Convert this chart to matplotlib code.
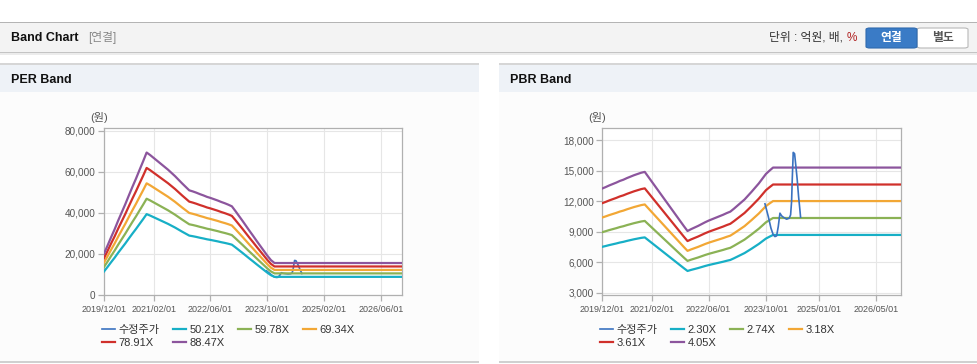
import matplotlib
matplotlib.use('Agg')
import matplotlib.pyplot as plt
from matplotlib.patches import Rectangle, FancyBboxPatch
from matplotlib.ticker import FuncFormatter

plt.rcParams['font.family'] = ['Liberation Sans', 'Noto Sans CJK KR']

W, H = 978, 364

# ---- data (x = position on the chart's time axis, in months from 2019/12) ----
eps_x = [0, 1, 2, 3, 4, 5, 6, 7, 8, 9, 10, 11, 12, 13, 14, 15, 16, 17, 18, 19, 20, 21, 22, 23, 24,
         25, 26, 27, 28, 29, 30, 31, 32, 33, 34, 35, 36, 37, 38, 39, 40, 41, 42, 43, 44, 45, 46, 47, 48, 84]
eps = [228, 272, 318, 362, 410, 455, 500, 548, 595, 640, 688, 735, 784, 770, 754, 738, 722, 706, 690,
       672, 654, 634, 614, 595, 576, 570, 563, 555, 548, 540, 534, 527, 520, 512, 505, 497, 488, 462,
       435, 408, 380, 352, 325, 297, 270, 243, 216, 192, 176, 176]
per_multiples = [50.21, 59.78, 69.34, 78.91, 88.47]
per_labels = ['50.21X', '59.78X', '69.34X', '78.91X', '88.47X']

bps_x = [0, 1, 2, 3, 4, 5, 6, 7, 8, 9, 10, 11, 12, 13, 14, 15, 16, 17, 18, 19, 20, 21, 22, 23, 24,
         25, 26, 27, 28, 29, 30, 31, 32, 33, 34, 35, 36, 37, 38, 39, 40, 41, 42, 43, 44, 45, 46, 47, 48, 84]
bps = [3275, 3310, 3350, 3385, 3420, 3460, 3490, 3530, 3565, 3600, 3630, 3660, 3680, 3560, 3440, 3320,
       3200, 3080, 2960, 2840, 2720, 2600, 2480, 2360, 2245, 2290, 2330, 2370, 2415, 2460, 2500, 2535,
       2570, 2605, 2640, 2680, 2715, 2785, 2860, 2935, 3010, 3105, 3200, 3300, 3400, 3515, 3630, 3710,
       3785, 3785]
pbr_multiples = [2.30, 2.74, 3.18, 3.61, 4.05]
pbr_labels = ['2.30X', '2.74X', '3.18X', '3.61X', '4.05X']

price_x = [45.73, 46.66, 47.41, 48.06, 48.53, 49.0, 49.46, 49.93, 50.4, 50.86, 51.8, 52.54, 52.92,
           53.2, 53.38, 53.66, 54.04, 54.41, 54.78, 55.16, 55.53, 55.72]
price = [11765, 10517, 9368, 8711, 8547, 8613, 9532, 10846, 10583, 10452, 10255, 10353, 10681,
         11995, 14129, 16821, 16690, 15442, 14129, 12487, 11174, 10452]

per_tick_pos = [0, 14.2, 29.9, 46.0, 62.0, 78.0]
per_tick_lab = ['2019/12/01', '2021/02/01', '2022/06/01', '2023/10/01', '2025/02/01', '2026/06/01']
pbr_tick_pos = [0, 14.0, 29.9, 45.9, 60.9, 77.0]
pbr_tick_lab = ['2019/12/01', '2021/02/01', '2022/06/01', '2023/10/01', '2025/01/01', '2026/05/01']

band_colors = ['#17afc6', '#8bb255', '#f2a735', '#d0302b', '#8c559d']
price_color = '#3a72c0'

fig = plt.figure(figsize=(W / 100, H / 100), dpi=100)
fig.patch.set_facecolor('white')


def rect(x0, y0, x1, y1, color):
    # rectangle given in pixel coords (origin top-left), kept behind the axes
    fig.patches.append(Rectangle((x0 / W, 1 - y1 / H), (x1 - x0) / W, (y1 - y0) / H,
                                 transform=fig.transFigure, facecolor=color,
                                 edgecolor='none', zorder=-10))


def text(x, y, s, **kw):
    fig.text(x / W, 1 - y / H, s, va='center', **kw)


# top header bar
rect(0, 22, W, 53, '#f3f3f3')
rect(0, 21.5, W, 23, '#b4b4b4')
rect(0, 52, W, 53, '#c4c4c4')
rect(0, 53, W, 55, '#ececec')
text(11, 38, 'Band Chart', fontsize=9, fontweight='bold', color='#111111')
text(88, 38, '[연결]', fontsize=8.5, color='#888888')
text(846, 38, '단위 : 억원, 배, ', fontsize=8.5, color='#333333', ha='right')
text(847, 38, '%', fontsize=8.5, color='#b02020', ha='left')
fig.patches.append(FancyBboxPatch((917 / W, 1 - 48 / H), 51 / W, 20 / H,
                                  boxstyle='round,pad=0,rounding_size=0.004',
                                  transform=fig.transFigure, facecolor='white',
                                  edgecolor='#b8b8b8', linewidth=0.8, zorder=-5))
fig.patches.append(FancyBboxPatch((866 / W, 1 - 48 / H), 51 / W, 20 / H,
                                  boxstyle='round,pad=0,rounding_size=0.004',
                                  transform=fig.transFigure, facecolor='#3a7bc6',
                                  edgecolor='#2f6aae', linewidth=0.8, zorder=-5))
text(891.5, 38, '연결', fontsize=8.5, fontweight='bold', color='white', ha='center')
text(942.5, 38, '별도', fontsize=8.5, fontweight='bold', color='#555555', ha='center')

# panels
for px0, px1, title in [(0, 479, 'PER Band'), (499, 978, 'PBR Band')]:
    rect(px0, 63, px1, 64.5, '#d6d6d6')
    rect(px0, 64.5, px1, 92, '#eef2f7')
    rect(px0, 92, px1, 361, '#fcfcfc')
    rect(px0, 361, px1, 362.5, '#d0d0d0')
    text(px0 + 11, 80, title, fontsize=9, fontweight='bold', color='#111111')


def band_axes(left_px, right_px, xs, base, mults, labels, tick_pos, tick_lab,
              ylim, yticks, price_on_top):
    ax = fig.add_axes([left_px / W, 1 - 295 / H, (right_px - left_px) / W, 167 / H])
    ax.set_facecolor('white')
    pz = 5 if price_on_top else 1
    ax.plot(price_x, price, color=price_color, lw=1.2, zorder=pz, label='수정주가')
    for m, c, lab in zip(mults, band_colors, labels):
        ax.plot(xs, [b * m for b in base], color=c, lw=1.6, zorder=3, label=lab)
    ax.set_xlim(0, 83.9)
    ax.set_ylim(*ylim)
    ax.set_xticks(tick_pos)
    ax.set_xticklabels(tick_lab)
    ax.set_yticks(yticks)
    ax.yaxis.set_major_formatter(FuncFormatter(lambda v, p: f'{int(v):,}'))
    ax.grid(True, color='#e6e6e6', lw=0.8, zorder=0)
    ax.set_axisbelow(True)
    for s in ax.spines.values():
        s.set_color('#b0b0b0')
        s.set_linewidth(0.9)
    ax.tick_params(axis='both', colors='#b0b0b0', labelcolor='#555555', labelsize=6.5,
                   length=4, width=0.9, pad=2)
    ax.tick_params(axis='y', labelsize=7.2)
    ax.tick_params(axis='x', pad=3)
    fig.text((left_px - 5) / W, 1 - 118 / H, '(원)', fontsize=8, color='#555555',
             ha='center', va='center')
    h, l = ax.get_legend_handles_labels()
    order = [0, 4, 1, 5, 2, 3]
    fig.legend([h[i] for i in order], [l[i] for i in order], ncol=4, frameon=False,
               loc='upper left', bbox_to_anchor=((left_px - 2) / W, 1 - 325 / H),
               fontsize=8, handlelength=1.2, handletextpad=0.3, columnspacing=1.2,
               labelspacing=0.3, borderpad=0, borderaxespad=0,
               labelcolor='#333333')
    return ax


band_axes(104, 402, eps_x, eps, per_multiples, per_labels, per_tick_pos, per_tick_lab,
          (0, 81300), [0, 20000, 40000, 60000, 80000], False)
band_axes(602, 901, bps_x, bps, pbr_multiples, pbr_labels, pbr_tick_pos, pbr_tick_lab,
          (2800, 19220), [3000, 6000, 9000, 12000, 15000, 18000], True)

fig.savefig('out.png', dpi=100, facecolor='white')
